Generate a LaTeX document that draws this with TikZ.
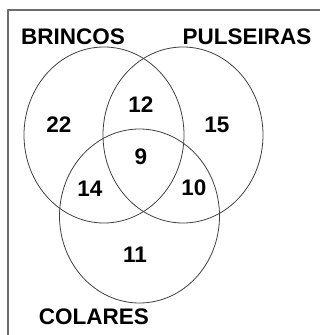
\documentclass[tikz,border=0pt]{standalone}
\usepackage{fontspec}
\setmainfont{Liberation Sans}
\begin{document}
\begin{tikzpicture}[x=1pt, y=-1pt, line join=round, line cap=round,
		txt/.style={font=\fontsize{22.5}{23}\selectfont\bfseries, inner sep=0pt}]
			\def\rx{80} \def\ry{88} % raios
			\useasboundingbox (0,0) rectangle (320,335);
			\draw[gray!85!black, line width=1.6pt] (8,335)--(8,10)--(320,10);
			\draw[black!75, line width=0.8pt] (104,135) ellipse ({\rx} and {\ry});
			\draw[black!75, line width=0.8pt] (183,135) ellipse ({\rx} and {\ry});
			\draw[black!75, line width=0.8pt] (139.5,216) ellipse ({\rx} and {\ry-1});
			\node[txt] (brincos) at (73,37) {BRINCOS};
			\node[txt] (pulseiras) at (247,37) {PULSEIRAS};
			\node[txt] (colares) at (94,317) {COLARES};
			\node[txt] (b) at (59,125) {22};
			\node[txt] (p) at (217,125) {15};
			\node[txt] (c) at (135,255) {11};
			\node[txt] (bp) at (141,105) {12};
			\node[txt] (bc) at (90,189) {14};
			\node[txt] (pc) at (194,188) {10};
			\node[txt] (bpc) at (141,157) {9};
		\end{tikzpicture}
\end{document}
